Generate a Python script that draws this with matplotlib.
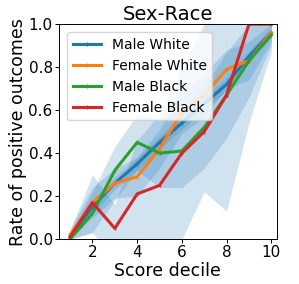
import matplotlib
matplotlib.use("Agg")
import matplotlib.pyplot as plt
import numpy as np

deciles = [1, 2, 3, 4, 5, 6, 7, 8, 9, 10]
labels = ["Male White", "Female White", "Male Black", "Female Black"]
male_white = [0.01, 0.15, 0.26, 0.35, 0.45, 0.54, 0.63, 0.72, 0.85, 0.96]
female_white = [0.02, 0.17, 0.26, 0.29, 0.42, 0.59, 0.67, 0.79, 0.83, 0.96]
male_black = [0.00, 0.12, 0.32, 0.45, 0.40, 0.41, 0.52, 0.67, 0.83, 0.95]
female_black = [0.01, 0.17, 0.05, 0.21, 0.25, 0.40, 0.50, 0.67, 1.00, 1.00]

# confidence bands (lower, upper)
mw_lo = [0.00, 0.12, 0.23, 0.32, 0.42, 0.51, 0.60, 0.69, 0.82, 0.94]
mw_hi = [0.03, 0.18, 0.29, 0.38, 0.48, 0.57, 0.66, 0.75, 0.88, 0.98]
fw_lo = [0.00, 0.10, 0.19, 0.20, 0.33, 0.49, 0.57, 0.70, 0.74, 0.92]
fw_hi = [0.05, 0.24, 0.33, 0.38, 0.51, 0.69, 0.77, 0.88, 0.92, 1.00]
mb_lo = [0.00, 0.03, 0.18, 0.32, 0.24, 0.24, 0.33, 0.47, 0.66, 0.90]
mb_hi = [0.03, 0.22, 0.43, 0.58, 0.56, 0.60, 0.71, 0.87, 1.00, 1.00]
fb_lo = [0.00, 0.03, -0.10, -0.05, -0.08, 0.00, 0.22, 0.13, 0.54, 0.87]
fb_hi = [0.04, 0.30, 0.16, 0.46, 0.58, 0.80, 1.00, 1.10, 1.10, 1.00]

series = [male_white, female_white, male_black, female_black]
bands = [(mw_lo, mw_hi), (fw_lo, fw_hi), (mb_lo, mb_hi), (fb_lo, fb_hi)]
colors = ["#1f77b4", "#ff7f0e", "#2ca02c", "#d62728"]

fig = plt.figure(figsize=(2.99, 2.84), dpi=100)
ax = fig.add_axes([0.197, 0.158, 0.729, 0.757])

for (lo, hi) in bands:
    ax.fill_between(deciles, lo, hi, color="#1f77b4", alpha=0.2, linewidth=0)

for s, lab, c in zip(series, labels, colors):
    ax.plot(deciles, s, color=c, label=lab, linewidth=2.2,
            marker="|", markersize=2.5, markeredgewidth=1)

for sp in ax.spines.values():
    sp.set_linewidth(0.7)

ax.set_xlim(0.5, 10.25)
ax.set_ylim(0, 1.0)
ax.set_xticks([2, 4, 6, 8, 10])
ax.set_yticks([0.0, 0.2, 0.4, 0.6, 0.8, 1.0])
ax.tick_params(labelsize=11, length=3, width=0.7, pad=1.5)
ax.set_xlabel("Score decile", fontsize=12.5, labelpad=1)
ax.set_ylabel("Rate of positive outcomes", fontsize=12.5, labelpad=1)
ax.set_title("Sex-Race", fontsize=14, pad=3)
ax.legend(loc="upper left", fontsize=10, framealpha=0.8, borderaxespad=0.6,
          handlelength=2.0)

fig.savefig("out.png", dpi=100)
